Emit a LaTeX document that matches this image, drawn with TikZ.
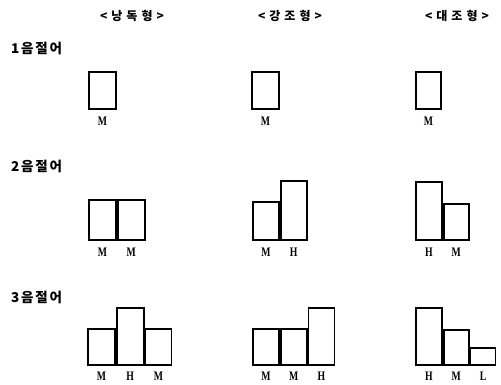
\documentclass[tikz,border=0pt]{standalone}
\usepackage{fontspec}
\setmainfont{Liberation Serif}
\newfontfamily\kor{Noto Sans CJK KR}
\newcommand\gp{\hspace{4pt}}
\newcommand\sg{\hspace{1.8pt}}
\begin{document}
\begin{tikzpicture}[x=1pt,y=-1pt,
  bar/.style={draw, line width=1.8pt, inner sep=0pt, anchor=south west,
    minimum width=27pt},
  tone/.style={font=\bfseries\fontsize{13}{13}\selectfont, inner sep=0pt, xscale=0.75},
  head/.style={font=\kor\bfseries\fontsize{12}{12}\selectfont, inner sep=0pt},
  rowlab/.style={font=\kor\bfseries\fontsize{13.5}{13.5}\selectfont, inner sep=0pt, anchor=west}]
\useasboundingbox (0,0) rectangle (501,385);

% column headings
\node[head] (h1) at (132,16) {<\gp 낭\gp 독\gp 형\gp >};
\node[head] (h2) at (290,16) {<\gp 강\gp 조\gp 형\gp >};
\node[head] (h3) at (457,16) {<\gp 대\gp 조\gp 형\gp >};

% row headings
\node[rowlab] (r1) at (11,48) {1\sg 음\sg 절\sg 어};
\node[rowlab] (r2) at (11,166) {2\sg 음\sg 절\sg 어};
\node[rowlab] (r3) at (11,297) {3\sg 음\sg 절\sg 어};

% one syllable
\node[bar, minimum height=37pt] (a1) at (88,110) {};
\node[bar, minimum height=37pt] (b1) at (251,110) {};
\node[bar, minimum height=37pt, minimum width=25pt] (c1) at (415,110) {};
\node[tone] (ta1) at (a1.south) [yshift=-11pt] {M};
\node[tone] (tb1) at (b1.south) [yshift=-11pt] {M};
\node[tone] (tc1) at (c1.south) [yshift=-11pt] {M};

% two syllables
\node[bar, minimum height=40pt] (a21) at (88,241) {};
\node[bar, minimum height=40pt] (a22) at (a21.south east) {};
\node[bar, minimum height=38pt, minimum width=26pt] (b21) at (252,241) {};
\node[bar, minimum height=59pt, minimum width=26pt] (b22) at (b21.south east) {};
\node[bar, minimum height=58pt, minimum width=26pt] (c21) at (415,241) {};
\node[bar, minimum height=36pt, minimum width=25pt] (c22) at (c21.south east) {};
\foreach \n/\t in {a21/M,a22/M,b21/M,b22/H,c21/H,c22/M}
  \node[tone] (t\n) at (\n.south) [yshift=-11pt] {\t};

% three syllables
\node[bar, minimum height=36pt] (a31) at (87,366) {};
\node[bar, minimum height=57pt] (a32) at (a31.south east) {};
\node[bar, minimum height=36pt, minimum width=26pt] (a33) at (a32.south east) {};
\node[bar, minimum height=36pt, minimum width=26pt] (b31) at (252,366) {};
\node[bar, minimum height=36pt, minimum width=26pt] (b32) at (b31.south east) {};
\node[bar, minimum height=57pt, minimum width=26pt] (b33) at (b32.south east) {};
\node[bar, minimum height=57pt, minimum width=26pt] (c31) at (415,366) {};
\node[bar, minimum height=35pt, minimum width=25pt] (c32) at (c31.south east) {};
\node[bar, minimum height=17pt, minimum width=25pt] (c33) at (c32.south east) {};
\foreach \n/\t in {a31/M,a32/H,a33/M,b31/M,b32/M,b33/H,c31/H,c32/M,c33/L}
  \node[tone] (t\n) at (\n.south) [yshift=-10.5pt] {\t};
\end{tikzpicture}
\end{document}
